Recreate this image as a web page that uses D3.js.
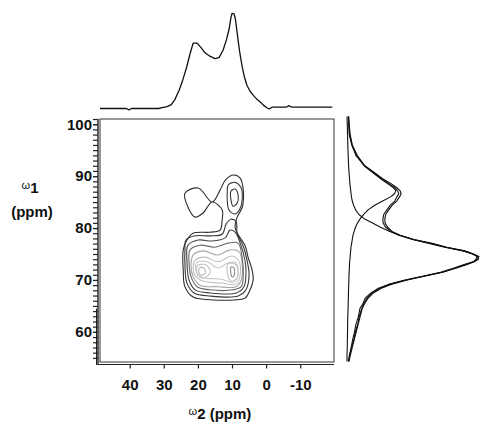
<!DOCTYPE html>
<html>
<head>
<meta charset="utf-8">
<script src="https://cdn.jsdelivr.net/npm/d3@7"></script>
<style>
  html, body { margin: 0; padding: 0; background: #fff; }
  svg { display: block; }
</style>
</head>
<body>
<svg id="chart" width="481" height="425"></svg>
<script>
// ---- 2D spectrum contours, points are [omega2 ppm, omega1 ppm] ----
const contourOuter = [[9.7,90.2],[7.6,89.6],[6.7,87.3],[7.0,84.0],[8.5,82.1],[9.1,80.2],[8.2,78.7],[6.2,76.7],[5.3,74.4],[4.1,71.9],[3.8,70.0],[4.7,68.1],[6.2,66.5],[8.5,66.2],[16.4,66.2],[21.4,66.7],[23.8,68.7],[24.3,71.9],[24.3,75.8],[23.2,77.7],[21.4,79.0],[16.4,79.2],[13.5,79.6],[12.9,81.5],[12.9,83.5],[15.8,85.0],[18.5,82.9],[20.8,82.1],[22.9,84.0],[23.8,86.7],[19.9,87.7],[15.8,85.0],[13.5,87.3],[12.0,89.2]];
const contourUpperMid = [[11.1,88.3],[9.1,88.8],[7.3,87.7],[7.0,85.8],[7.6,83.8],[9.1,82.7],[10.9,83.5],[11.4,85.4],[11.4,86.9]];
const contourUpperInner = [[10.3,87.1],[9.1,87.5],[8.2,86.3],[8.5,84.8],[9.7,84.2],[10.3,85.4]];
const contourL2 = [[23.5,77.7],[20.8,78.5],[16.4,78.5],[12.9,78.8],[11.7,80.8],[10.3,81.7],[8.8,81.2],[8.5,79.0],[6.7,76.5],[5.6,73.8],[5.0,71.0],[5.9,68.1],[8.2,66.9],[16.4,66.9],[21.1,67.5],[23.2,69.4],[23.8,72.9],[23.8,75.8]];
const contourL3 = [[22.9,76.7],[19.9,77.7],[15.8,77.5],[12.0,78.1],[10.6,79.6],[9.1,79.2],[7.6,77.1],[6.2,73.8],[5.9,71.5],[6.5,68.7],[8.8,67.5],[16.4,67.5],[20.8,68.1],[22.6,70.0],[23.2,73.5]];
const contourL4 = [[22.3,75.8],[19.4,76.7],[15.0,76.3],[11.1,77.1],[8.2,77.1],[7.0,74.2],[6.7,71.0],[7.3,68.7],[9.7,68.1],[16.4,68.1],[20.2,68.7],[22.0,70.6],[22.6,73.5]];
const contourL5 = [[21.4,74.8],[18.5,75.6],[14.1,74.8],[10.6,75.8],[7.9,75.4],[7.0,72.9],[7.3,70.0],[8.8,68.7],[14.1,68.7],[19.4,69.0],[21.4,70.6],[22.0,72.9]];
const contourL6 = [[20.8,73.8],[17.9,74.4],[14.1,73.5],[10.0,74.6],[7.9,73.5],[7.6,71.0],[8.8,69.2],[12.9,69.4],[18.5,69.8],[20.8,70.8],[21.4,72.3]];
const contourL7 = [[20.5,73.3],[17.3,73.5],[14.1,72.3],[11.1,73.3],[8.8,73.3],[8.2,71.0],[9.4,69.6],[13.5,70.2],[18.2,70.4],[20.2,71.2]];
const contourL8a = [[20.2,72.7],[17.6,72.9],[16.4,71.5],[18.2,70.4],[19.9,70.8]];
const contourL8b = [[11.1,73.1],[8.8,72.9],[8.5,70.4],[10.3,69.8],[11.4,71.5]];
const contourL9a = [[19.6,72.3],[18.2,72.3],[17.9,71.2],[19.4,71.0]];
const contourL9b = [[10.3,72.5],[9.4,72.3],[9.4,70.8],[10.0,70.6]];

// ---- omega2 projection (top), [ppm, relative intensity] ----
const topProjection = [[48.7,0.0],[44.0,0.0],[41.0,0.0],[40.2,-0.015],[39.5,0.0],[35.0,0.0],[31.5,0.0],[30.5,0.01],[29.0,0.02],[27.8,0.04],[26.8,0.09],[25.5,0.19],[24.5,0.29],[23.3,0.43],[22.3,0.57],[21.4,0.68],[20.2,0.68],[19.2,0.64],[17.9,0.58],[16.5,0.545],[15.0,0.52],[13.8,0.53],[12.6,0.61],[11.6,0.72],[10.9,0.82],[10.3,0.95],[10.0,0.99],[9.4,0.985],[9.0,0.93],[8.5,0.79],[7.8,0.60],[7.0,0.43],[6.3,0.32],[5.6,0.24],[4.7,0.18],[3.8,0.14],[2.8,0.10],[1.8,0.07],[0.8,0.035],[-0.3,0.005],[-1.0,-0.005],[-1.8,0.015],[-3.0,0.015],[-6.0,0.015],[-6.7,0.03],[-7.4,0.015],[-10.0,0.015],[-19.4,0.015]];

// ---- omega1 projections (right), shared ppm grid and relative intensities ----
const sideShifts = [101.5,100,98,96,94,92,90.5,89.5,88.5,87.8,87.2,86.6,86,85.2,84.4,83.5,82.6,81.8,81,80.2,79.4,78.6,77.8,77,76.3,75.6,75,74.5,74,73.5,73,72.3,71.5,70.7,70,69.2,68.4,67.5,66.5,65.5,64.5,63,61.5,60,58.5,57,55.5,54.3];
const sideBothA = [0.01,0.014,0.017,0.037,0.068,0.132,0.208,0.262,0.318,0.362,0.383,0.392,0.378,0.362,0.328,0.302,0.278,0.272,0.273,0.292,0.328,0.392,0.498,0.642,0.748,0.892,0.958,1.0,0.99,0.958,0.902,0.818,0.722,0.578,0.452,0.328,0.252,0.188,0.152,0.128,0.112,0.093,0.082,0.063,0.052,0.033,0.022,0.01];
const sideBothB = [0.012,0.016,0.024,0.04,0.077,0.135,0.217,0.27,0.337,0.375,0.402,0.41,0.398,0.377,0.343,0.316,0.293,0.287,0.288,0.307,0.338,0.403,0.508,0.652,0.758,0.883,0.952,0.985,0.978,0.957,0.893,0.812,0.708,0.572,0.438,0.322,0.238,0.182,0.138,0.122,0.098,0.087,0.068,0.057,0.043,0.032,0.018,0.012];
const sideUpperOnly = [0.012,0.014,0.02,0.037,0.07,0.13,0.205,0.255,0.31,0.35,0.37,0.36,0.33,0.27,0.21,0.16,0.125,0.10,0.08,0.065,0.055,0.045,0.04,0.035,0.03,0.028,0.025,0.024,0.022,0.02,0.019,0.018,0.016,0.015,0.014,0.013,0.012,0.011,0.01,0.009,0.008,0.006,0.005,0.004,0.003,0.002,0.0,0.0];
const sideLowerOnly = [0.0,0.002,0.004,0.006,0.009,0.012,0.016,0.019,0.022,0.025,0.028,0.031,0.034,0.04,0.05,0.065,0.09,0.13,0.19,0.25,0.32,0.40,0.50,0.63,0.74,0.88,0.955,0.99,0.995,0.965,0.91,0.83,0.725,0.585,0.455,0.34,0.26,0.20,0.16,0.135,0.115,0.10,0.085,0.07,0.055,0.04,0.025,0.015];

// ---- axis ticks ----
const xTicks = [40, 30, 20, 10, 0, -10];
const yTicks = [60, 70, 80, 90, 100];
const yMinorTicks = d3.range(55, 102, 1);

const FONT = "'Liberation Sans', Arial, Helvetica, sans-serif";
const svg = d3.select("#chart");

const x = d3.scaleLinear().domain([48.7, -19.9]).range([100, 334]);
const y = d3.scaleLinear().domain([101.0, 54.2]).range([119, 362]);
const topY = d3.scaleLinear().domain([0, 1]).range([108.5, 12.5]);
const sideX = d3.scaleLinear().domain([0, 1]).range([347, 479]);
const axisX = 98;      // left axis line
const axisY = 364.5;   // bottom axis line

// plot frame
svg.append("rect")
  .attr("x", x.range()[0]).attr("y", y.range()[0])
  .attr("width", x.range()[1] - x.range()[0])
  .attr("height", y.range()[1] - y.range()[0])
  .attr("fill", "none").attr("stroke", "#333").attr("stroke-width", 1);

// contours
const ring = d3.line().x(d => x(d[0])).y(d => y(d[1])).curve(d3.curveCatmullRomClosed.alpha(0.5));
const contourSets = [
  { pts: contourL9a, color: "#b8b8b8" },
  { pts: contourL9b, color: "#888" },
  { pts: contourL8a, color: "#c4c4c4" },
  { pts: contourL8b, color: "#c4c4c4" },
  { pts: contourL7, color: "#c8c8c8" },
  { pts: contourL6, color: "#c0c0c0" },
  { pts: contourL5, color: "#a8a8a8" },
  { pts: contourL4, color: "#666" },
  { pts: contourL3, color: "#444" },
  { pts: contourL2, color: "#383838" },
  { pts: contourUpperInner, color: "#383838" },
  { pts: contourUpperMid, color: "#383838" },
  { pts: contourOuter, color: "#2e2e2e" }
];
svg.append("g").selectAll("path").data(contourSets).join("path")
  .attr("d", d => ring(d.pts))
  .attr("fill", "none")
  .attr("stroke", d => d.color)
  .attr("stroke-width", 1.1)
  .attr("stroke-linejoin", "round");

// top projection
svg.append("path")
  .attr("d", d3.line().x(d => x(d[0])).y(d => topY(d[1]))(topProjection))
  .attr("fill", "none").attr("stroke", "#111").attr("stroke-width", 1.3)
  .attr("stroke-linejoin", "round");

// right projections
const sideLine = d3.line().x(d => sideX(d[1])).y(d => y(d[0]));
const sideSeries = [sideBothA, sideBothB, sideUpperOnly, sideLowerOnly];
svg.append("g").selectAll("path").data(sideSeries).join("path")
  .attr("d", vals => sideLine(sideShifts.map((s, i) => [s, vals[i]])))
  .attr("fill", "none").attr("stroke", "#111").attr("stroke-width", 1.1)
  .attr("stroke-linejoin", "round");

// left axis
const gy = svg.append("g").attr("transform", `translate(${axisX},0)`);
gy.call(d3.axisLeft(y).tickValues(yMinorTicks).tickSize(5).tickSizeOuter(0).tickFormat(""));
gy.select(".domain").remove();
gy.selectAll(".tick line").attr("stroke", "#222").attr("stroke-width", 1.2);
const gyMajor = svg.append("g").attr("transform", `translate(${axisX},0)`);
gyMajor.call(d3.axisLeft(y).tickValues(yTicks).tickSize(5).tickPadding(1).tickSizeOuter(0).tickFormat(d => String(d)));
gyMajor.select(".domain").remove();
gyMajor.selectAll(".tick line").attr("stroke", "#222").attr("stroke-width", 1.2);
gyMajor.selectAll(".tick text")
  .attr("font-family", FONT).attr("font-size", 15).attr("font-weight", "bold").attr("fill", "#111");
svg.append("line")
  .attr("x1", axisX).attr("x2", axisX)
  .attr("y1", y.range()[0]).attr("y2", axisY + 0.5)
  .attr("stroke", "#222").attr("stroke-width", 1.4);
svg.append("line")
  .attr("x1", axisX - 1.5).attr("x2", axisX - 1.5)
  .attr("y1", y(64.5)).attr("y2", axisY + 0.5)
  .attr("stroke", "#222").attr("stroke-width", 1);

// bottom axis
const gx = svg.append("g").attr("transform", `translate(0,${axisY})`);
gx.call(d3.axisBottom(x).tickValues(xTicks).tickSize(4).tickPadding(11).tickSizeOuter(0).tickFormat(d => String(d)));
gx.select(".domain").remove();
gx.selectAll(".tick line").attr("stroke", "#222").attr("stroke-width", 1.2);
gx.selectAll(".tick text")
  .attr("font-family", FONT).attr("font-size", 15).attr("font-weight", "bold").attr("fill", "#111");
svg.append("line")
  .attr("x1", axisX).attr("x2", x.range()[1])
  .attr("y1", axisY).attr("y2", axisY)
  .attr("stroke", "#222").attr("stroke-width", 1.2);

// axis titles
const xTitle = svg.append("text")
  .attr("x", 220).attr("y", 419)
  .attr("text-anchor", "middle")
  .attr("font-family", FONT).attr("fill", "#111");
xTitle.append("tspan").attr("font-size", 11).attr("dy", -4).text("ω");
xTitle.append("tspan").attr("font-size", 15).attr("font-weight", "bold").attr("dy", 4).text("2 (ppm)");

const yTitle1 = svg.append("text")
  .attr("x", 30).attr("y", 193)
  .attr("text-anchor", "middle")
  .attr("font-family", FONT).attr("fill", "#111");
yTitle1.append("tspan").attr("font-size", 11).attr("dy", -4).text("ω");
yTitle1.append("tspan").attr("font-size", 15).attr("font-weight", "bold").attr("dy", 4).text("1");
svg.append("text")
  .attr("x", 32).attr("y", 217)
  .attr("text-anchor", "middle")
  .attr("font-family", FONT).attr("font-size", 15).attr("font-weight", "bold").attr("fill", "#111")
  .text("(ppm)");
</script>
</body>
</html>
